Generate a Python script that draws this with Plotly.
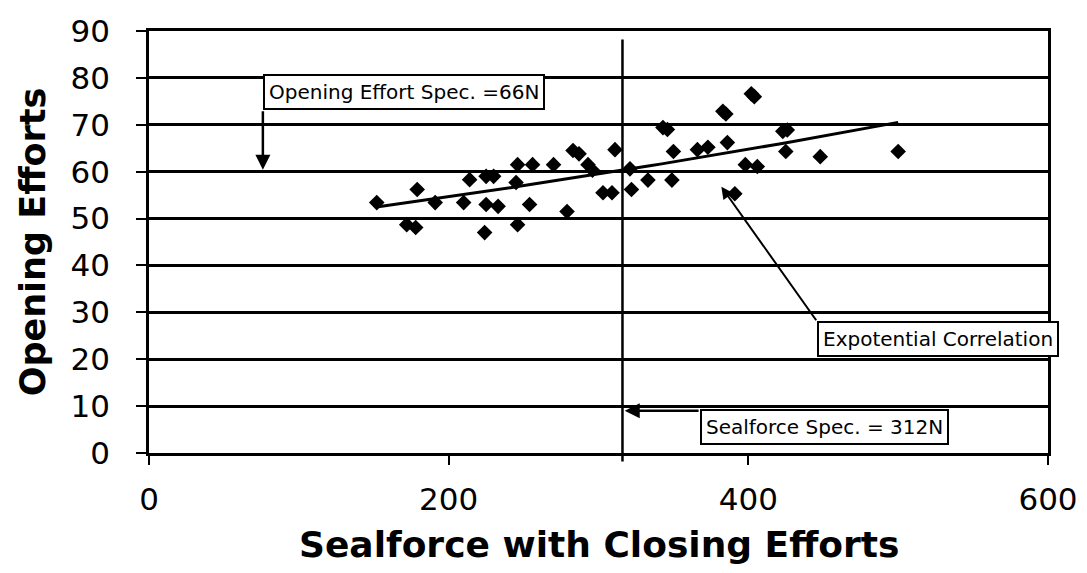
import numpy as np
import plotly.graph_objects as go

# ---- data ----
sealforce = [152, 172, 178, 179, 191, 210, 214, 225, 230, 225, 233, 224,
             246, 256, 245, 254, 246, 270, 279, 283, 287, 293, 296, 303,
             309, 311, 322, 321, 333, 349, 350, 343, 346, 366, 373, 386,
             383, 385, 402, 404, 398, 406, 391, 423, 426, 425, 448, 500]
opening = [53.4, 48.7, 48.1, 56.2, 53.4, 53.4, 58.3, 59.0, 59.0, 53.0, 52.6, 47.0,
           61.5, 61.5, 57.7, 53.0, 48.7, 61.5, 51.5, 64.5, 63.8, 61.5, 60.3, 55.5,
           55.5, 64.7, 56.2, 60.6, 58.2, 58.2, 64.3, 69.4, 69.0, 64.7, 65.2, 66.2,
           72.9, 72.3, 76.6, 76.0, 61.5, 61.1, 55.3, 68.6, 68.9, 64.3, 63.2, 64.3]

x_ticks = [0, 200, 400, 600]
y_ticks = [0, 10, 20, 30, 40, 50, 60, 70, 80, 90]

sealforce_spec = 316        # vertical spec line position
opening_spec_level = 60     # level the opening-effort arrow points to

# exponential correlation as drawn in the source (y = a * exp(b * x))
trend_a = 46.1
trend_b = 0.00085
trend_range = [153, 500]

x_title = "Sealforce with Closing Efforts"
y_title = "Opening Efforts"

trend_x = np.linspace(trend_range[0], trend_range[1], 60)
trend_y = trend_a * np.exp(trend_b * trend_x)

fig = go.Figure()

fig.add_trace(go.Scatter(
    x=trend_x, y=trend_y, mode="lines",
    line=dict(color="black", width=3), showlegend=False, hoverinfo="skip"))

fig.add_trace(go.Scatter(
    x=sealforce, y=opening, mode="markers",
    marker=dict(symbol="diamond", size=12, color="black"),
    showlegend=False))

# vertical sealforce spec line
fig.add_shape(type="line", xref="x", yref="paper",
              x0=sealforce_spec, x1=sealforce_spec, y0=-0.02, y1=88.2 / 90,
              line=dict(color="black", width=2.5))

tfont = dict(family="DejaVu Sans", size=20, color="black")

# Opening effort spec label + arrow
fig.add_annotation(x=76, y=76.9, xref="x", yref="y", xanchor="left", yanchor="middle",
                   text="Opening Effort Spec. =66N", showarrow=False, font=tfont,
                   bgcolor="white", bordercolor="black", borderwidth=2, borderpad=4)
fig.add_annotation(x=76, y=opening_spec_level + 0.4, ax=76, ay=73.2,
                   xref="x", yref="y", axref="x", ayref="y", text="",
                   showarrow=True, arrowhead=2, arrowsize=1.2, arrowwidth=2.5,
                   arrowcolor="black")

# Exponential correlation label + arrow
fig.add_annotation(x=446, y=24.25, xref="x", yref="y", xanchor="left", yanchor="middle",
                   text="Expotential Correlation", showarrow=False, font=tfont,
                   bgcolor="white", bordercolor="black", borderwidth=2, borderpad=4)
fig.add_annotation(x=382, y=56.8, ax=446, ay=28.0,
                   xref="x", yref="y", axref="x", ayref="y", text="",
                   showarrow=True, arrowhead=2, arrowsize=1.2, arrowwidth=2,
                   arrowcolor="black")

# Sealforce spec label + arrow
fig.add_annotation(x=367.8, y=5.5, xref="x", yref="y", xanchor="left", yanchor="middle",
                   text="Sealforce Spec. = 312N", showarrow=False, font=tfont,
                   bgcolor="white", bordercolor="black", borderwidth=2, borderpad=4)
fig.add_annotation(x=sealforce_spec + 1.5, y=9.0, ax=367.8, ay=9.0,
                   xref="x", yref="y", axref="x", ayref="y", text="",
                   showarrow=True, arrowhead=2, arrowsize=1.2, arrowwidth=2.5,
                   arrowcolor="black")

# x-axis title (placed as paper annotation so it can sit low in the margin)
fig.add_annotation(x=0.5, y=-0.218, xref="paper", yref="paper",
                   xanchor="center", yanchor="middle", showarrow=False,
                   text=x_title,
                   font=dict(family="DejaVu Sans", size=36, color="black", weight="bold"))

fig.update_layout(
    width=1079, height=565,
    margin=dict(l=141, r=39, t=23, b=120),
    paper_bgcolor="white", plot_bgcolor="white",
    font=dict(family="DejaVu Sans", color="black"),
    xaxis=dict(range=[0, 600], tickvals=x_ticks, showgrid=False, zeroline=False,
               automargin=False,
               showline=True, linecolor="black", linewidth=2.5, mirror=True,
               ticks="outside", ticklen=9, tickwidth=2, tickcolor="black",
               tickfont=dict(family="DejaVu Sans", size=31, color="black"),
               ticklabelstandoff=8),
    yaxis=dict(range=[0, 90], tickvals=y_ticks, showgrid=True, gridcolor="black",
               gridwidth=2.5, zeroline=False, automargin=False,
               showline=True, linecolor="black", linewidth=2.5, mirror=True,
               ticks="outside", ticklen=10, tickwidth=2, tickcolor="black",
               tickfont=dict(family="DejaVu Sans", size=31, color="black"),
               ticklabelstandoff=20,
               title=dict(text=y_title, standoff=15,
                          font=dict(family="DejaVu Sans", size=35, color="black", weight="bold"))),
)

fig.write_html("out.html")
